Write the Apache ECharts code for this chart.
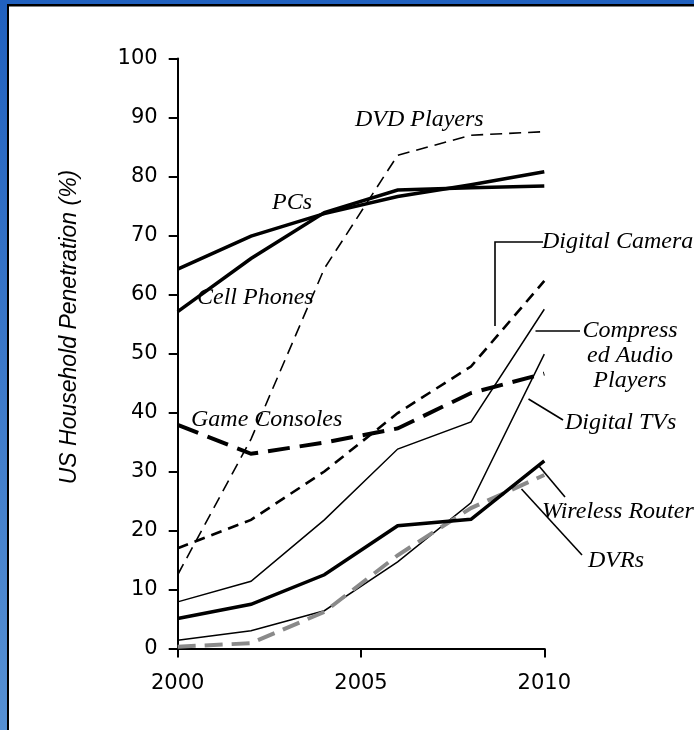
<!DOCTYPE html>
<html>
<head>
<meta charset="utf-8">
<script src="https://cdn.jsdelivr.net/npm/echarts@6/dist/echarts.min.js"></script>
<style>
  html, body { margin: 0; padding: 0; }
  #chart { width: 694px; height: 730px; }
</style>
</head>
<body>
<div id="chart"></div>
<script>
// Survey years (x positions of every series point)
const years = [2000, 2002, 2004, 2006, 2008, 2010];

// US household penetration, percent
const pcs             = [64.3, 69.9, 73.7, 76.6, 78.6, 80.8];
const cellPhones      = [57.1, 66.1, 73.9, 77.7, 78.1, 78.4];
const dvdPlayers      = [12.5, 35.5, 64.4, 83.6, 87.0, 87.6];
const digitalCameras  = [17.0, 21.8, 30.0, 39.9, 47.8, 62.3];
const compressedAudio = [7.9, 11.4, 21.8, 33.8, 38.4, 57.5];
const digitalTVs      = [1.4, 3.0, 6.4, 14.7, 24.7, 49.9];
const gameConsoles    = [37.9, 33.0, 34.9, 37.3, 43.3, 46.6];
const wirelessRouters = [5.1, 7.5, 12.5, 20.8, 21.9, 31.8];
const dvrs            = [0.3, 0.9, 6.2, 15.8, 23.8, 29.4];

// Axis ticks
const yTicks = { min: 0, max: 100, step: 10 };
const xTicks = { min: 2000, max: 2010, step: 5 };

const pairs = vals => years.map((y, i) => [y, vals[i]]);

function line(name, vals, width, dash, color) {
  return {
    name: name,
    type: 'line',
    data: pairs(vals),
    symbol: 'none',
    lineStyle: {
      color: color || '#000',
      width: width,
      type: dash || 'solid',
      cap: 'butt',
      join: 'miter'
    }
  };
}

const labelFont = 'italic 24px "Liberation Serif", "Times New Roman", serif';
function note(text, x, y, align) {
  return {
    type: 'text', z: 100, x: x, y: y,
    style: {
      text: text, font: labelFont, fill: '#000',
      align: align || 'left', verticalAlign: 'middle', lineHeight: 25
    }
  };
}
function leader(points) {
  return {
    type: 'polyline', z: 100,
    shape: { points: points },
    style: { stroke: '#000', lineWidth: 1.6, fill: null }
  };
}

const chart = echarts.init(document.getElementById('chart'), null, { renderer: 'canvas' });

chart.setOption({
  animation: false,
  grid: { left: 177.7, right: 149.7, top: 58.5, bottom: 81.5, containLabel: false },
  xAxis: {
    type: 'value',
    min: xTicks.min, max: xTicks.max, interval: xTicks.step,
    axisLine: { onZero: false, lineStyle: { color: '#000', width: 2 } },
    axisTick: { length: 9, lineStyle: { color: '#000', width: 2 } },
    axisLabel: {
      margin: 25, color: '#000', fontFamily: '"DejaVu Sans", Tahoma, sans-serif', fontSize: 21,
      formatter: v => String(v)
    },
    splitLine: { show: false }
  },
  yAxis: {
    type: 'value',
    min: yTicks.min, max: yTicks.max, interval: yTicks.step,
    axisLine: { show: true, lineStyle: { color: '#000', width: 2 } },
    axisTick: { show: true, length: 9, lineStyle: { color: '#000', width: 2 } },
    axisLabel: { margin: 20, color: '#000', fontFamily: '"DejaVu Sans", Tahoma, sans-serif', fontSize: 21 },
    splitLine: { show: false }
  },
  series: [
    line('DVD Players', dvdPlayers, 1.6, [12, 7]),
    line('Digital Cameras', digitalCameras, 2.6, [11, 7]),
    line('Compressed Audio Players', compressedAudio, 1.5),
    line('Digital TVs', digitalTVs, 1.5),
    line('Game Consoles', gameConsoles, 4, [22, 10]),
    line('DVRs', dvrs, 4, [18, 9], '#8a8a8a'),
    line('Wireless Routers', wirelessRouters, 3.5),
    line('PCs', pcs, 3.5),
    line('Cell Phones', cellPhones, 3.5)
  ],
  graphic: [
    // slide frame: blue edge with a black rule, white panel
    {
      type: 'rect', z: -100, silent: true,
      shape: { x: 0, y: 0, width: 694, height: 730 },
      style: {
        fill: new echarts.graphic.LinearGradient(0, 0, 0, 1, [
          { offset: 0, color: '#2161bf' },
          { offset: 1, color: '#5690d3' }
        ])
      }
    },
    {
      type: 'rect', z: -99, silent: true,
      shape: { x: 7, y: 4, width: 700, height: 740 },
      style: { fill: '#000' }
    },
    {
      type: 'rect', z: -98, silent: true,
      shape: { x: 9, y: 6.5, width: 700, height: 740 },
      style: { fill: '#fff' }
    },
    // y axis title
    {
      type: 'text', z: 100, x: 70, y: 327, rotation: Math.PI / 2,
      style: {
        text: 'US Household Penetration (%)',
        font: 'italic 23px "Liberation Sans", Arial, sans-serif',
        fill: '#000', align: 'center', verticalAlign: 'middle'
      }
    },
    // series annotations
    note('DVD Players', 355, 120),
    note('PCs', 272, 203),
    note('Cell Phones', 197, 298),
    note('Game Consoles', 191, 420),
    note('Digital Camera', 542, 242),
    note('Compress\ned Audio\nPlayers', 630, 356, 'center'),
    note('Digital TVs', 565, 423),
    note('Wireless Routers', 542, 512),
    note('DVRs', 588, 561),
    leader([[495, 326], [495, 242], [543, 242]]),
    leader([[535.5, 331], [580, 331]]),
    leader([[528.5, 399], [563, 420]]),
    leader([[539, 466], [565, 497]]),
    leader([[521.5, 489], [582, 555]])
  ]
});
</script>
</body>
</html>
